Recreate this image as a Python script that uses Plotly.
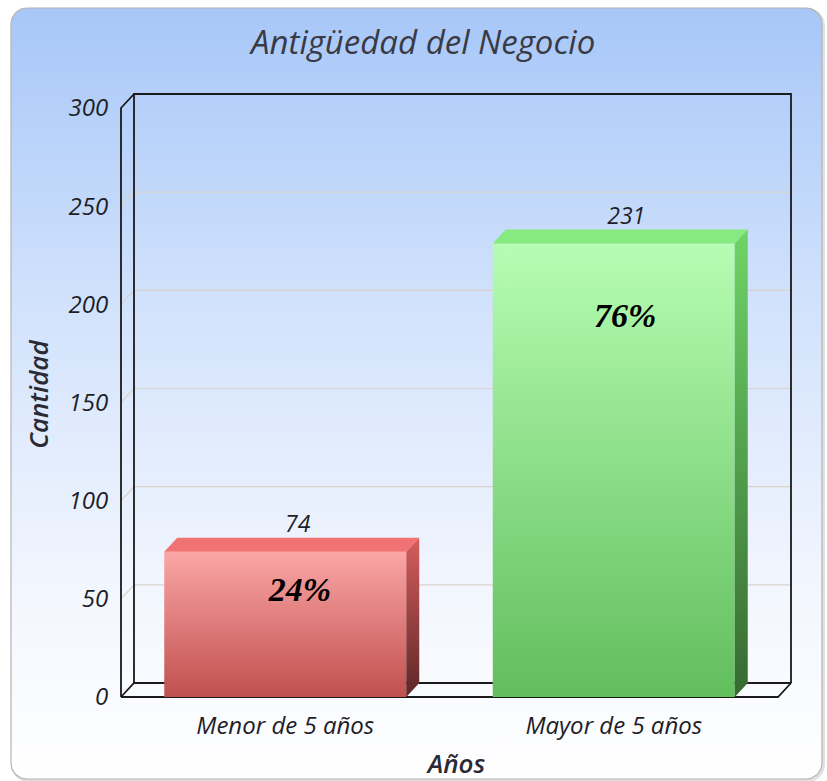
import numpy as np
import plotly.graph_objects as go

# data
categories = ["Menor de 5 años", "Mayor de 5 años"]
values = [74, 231]
y_ticks = [0, 50, 100, 150, 200, 250, 300]

# colours: (front top, front bottom, top face, side top, side bottom)
bar_colors = [
    ("#fba6a6", "#c0504e", "#f07272", "#d65e5e", "#5e2626"),
    ("#b6fdb3", "#62be5d", "#86ea80", "#6fd468", "#356a31"),
]
pct_pos = [(0.045, 0.72), (0.035, 0.835)]  # label offset x, fraction of bar height

W, H = 827, 781
# pixel layout of the front plane
px_left, px_right = 121, 778      # x = -0.5 .. 1.5
py_zero, py_top = 697, 108        # y = 0 .. 300
ddx_px, ddy_px = 13, 14           # depth offset

kx = (px_right - px_left) / 2.0
ky = (py_zero - py_top) / 300.0
dx = ddx_px / kx
dy = ddy_px / ky
bw = 242 / kx

xr = [-0.5 - 5 / kx, 1.5 + dx + 6 / kx]
yr = [-4 / ky, 300 + dy + 6 / ky]
xdom = [(px_left + (xr[0] + 0.5) * kx) / W, (px_left + (xr[1] + 0.5) * kx) / W]
ydom = [(H - (py_zero - yr[0] * ky)) / H, (H - (py_zero - yr[1] * ky)) / H]

fig = go.Figure()

# background panel (rounded rect with gradient) in pixel coords, y up
def rounded_rect(x0, y0, x1, y1, r, n=12):
    pts = []
    for cx, cy, a0 in [(x1 - r, y1 - r, 0), (x0 + r, y1 - r, 90),
                       (x0 + r, y0 + r, 180), (x1 - r, y0 + r, 270)]:
        a = np.radians(np.linspace(a0, a0 + 90, n))
        pts += list(zip(cx + r * np.cos(a), cy + r * np.sin(a)))
    pts.append(pts[0])
    return [p[0] for p in pts], [p[1] for p in pts]

bx, by = rounded_rect(11, H - 779, 822, H - 8, 16)
fig.add_trace(go.Scatter(x=[v + 1.5 for v in bx], y=[v - 1.5 for v in by], mode="lines",
                         line=dict(color="rgba(0,0,0,0.12)", width=3), hoverinfo="skip"))
fig.add_trace(go.Scatter(
    x=bx, y=by, fill="toself", mode="lines",
    line=dict(color="#b4b4b4", width=1.2),
    fillgradient=dict(type="vertical",
                      colorscale=[[0, "#ffffff"], [0.25, "#f2f6fe"], [0.6, "#d3e3fc"], [1, "#a7c7f8"]]),
    hoverinfo="skip"))


def line(xs, ys, color, width):
    fig.add_trace(go.Scatter(x=xs, y=ys, mode="lines", xaxis="x2", yaxis="y2",
                             line=dict(color=color, width=width), hoverinfo="skip"))

# grid lines on back wall and left wall
for t in y_ticks[1:-1]:
    line([-0.5, -0.5 + dx, 1.5 + dx], [t, t + dy, t + dy], "#d8d2cb", 1.2)

# floor
line([-0.5, 1.5, 1.5 + dx, -0.5 + dx, -0.5], [0, 0, dy, dy, 0], "#1a1a1a", 1.8)
# back wall
line([-0.5 + dx, -0.5 + dx, 1.5 + dx, 1.5 + dx], [dy, 300 + dy, 300 + dy, dy], "#1a1a1a", 1.8)
# left wall
line([-0.5 + dx, -0.5, -0.5], [300 + dy, 300, 0], "#1a1a1a", 1.8)


def face(xs, ys, colorscale):
    fig.add_trace(go.Scatter(
        x=xs + [xs[0]], y=ys + [ys[0]], fill="toself", mode="lines", xaxis="x2", yaxis="y2",
        line=dict(width=0, color="rgba(0,0,0,0)"),
        fillgradient=dict(type="vertical", colorscale=colorscale), hoverinfo="skip"))

total = sum(values)
for i, (v, c) in enumerate(zip(values, bar_colors)):
    l, r = i - bw / 2, i + bw / 2
    face([l, r, r, l], [0, 0, v, v], [[0, c[1]], [1, c[0]]])
    face([l, r, r + dx, l + dx], [v, v, v + dy, v + dy], [[0, c[2]], [1, c[2]]])
    face([r, r + dx, r + dx, r], [0, dy, v + dy, v], [[0, c[4]], [1, c[3]]])

# value labels and percentages
fig.add_trace(go.Scatter(
    x=[i + dx / 2 + 6 / kx for i in range(len(values))], y=[v + dy for v in values],
    mode="text", text=[str(v) for v in values], textposition="top center",
    textfont=dict(family="Open Sans", size=23, style="italic", color="#1e1e28"),
    xaxis="x2", yaxis="y2", hoverinfo="skip", cliponaxis=False))
fig.add_trace(go.Scatter(
    x=[i + p[0] for i, p in enumerate(pct_pos)], y=[v * p[1] for v, p in zip(values, pct_pos)],
    mode="text", text=[f"{round(100 * v / total)}%" for v in values], textposition="middle center",
    textfont=dict(family="Liberation Serif", size=34, style="italic", weight="bold", color="#000000"),
    xaxis="x2", yaxis="y2", hoverinfo="skip", cliponaxis=False))

tick_font = dict(family="Open Sans", size=24, style="italic", color="#1e1e28")
title_font = dict(family="Open Sans", size=26, style="italic", weight=600, color="#2a2a34")

fig.update_layout(
    width=W, height=H,
    margin=dict(l=0, r=0, t=0, b=0, autoexpand=False),
    paper_bgcolor="white", plot_bgcolor="rgba(0,0,0,0)",
    showlegend=False,
    xaxis=dict(domain=[0, 1], range=[0, W], visible=False, fixedrange=True),
    yaxis=dict(domain=[0, 1], range=[0, H], visible=False, fixedrange=True),
    xaxis2=dict(domain=xdom, range=xr, anchor="y2", showgrid=False, zeroline=False,
                automargin=False,
                tickvals=list(range(len(categories))), ticktext=categories,
                tickfont=tick_font, ticks="outside", ticklen=3, tickcolor="rgba(0,0,0,0)",
                title=dict(text="Años", font=title_font, standoff=18)),
    yaxis2=dict(domain=ydom, range=yr, anchor="x2", showgrid=False, zeroline=False,
                automargin=False,
                tickvals=y_ticks, tickfont=tick_font, ticks="outside", ticklen=2,
                tickcolor="rgba(0,0,0,0)",
                title=dict(text="Cantidad", font=title_font, standoff=12)),
    annotations=[dict(text="Antigüedad del Negocio", x=422 / W, y=1 - 42 / H,
                      xref="paper", yref="paper", xanchor="center", yanchor="middle",
                      showarrow=False,
                      font=dict(family="Open Sans", size=33, style="italic", color="#3a3a44"))],
)

page_fix = (
    "document.documentElement.style.margin='0';"
    "document.documentElement.style.overflow='hidden';"
    "document.body.style.margin='0';"
    "document.body.style.overflow='hidden';"
)
fig.write_html("out.html", config={"displayModeBar": False}, post_script=page_fix)
